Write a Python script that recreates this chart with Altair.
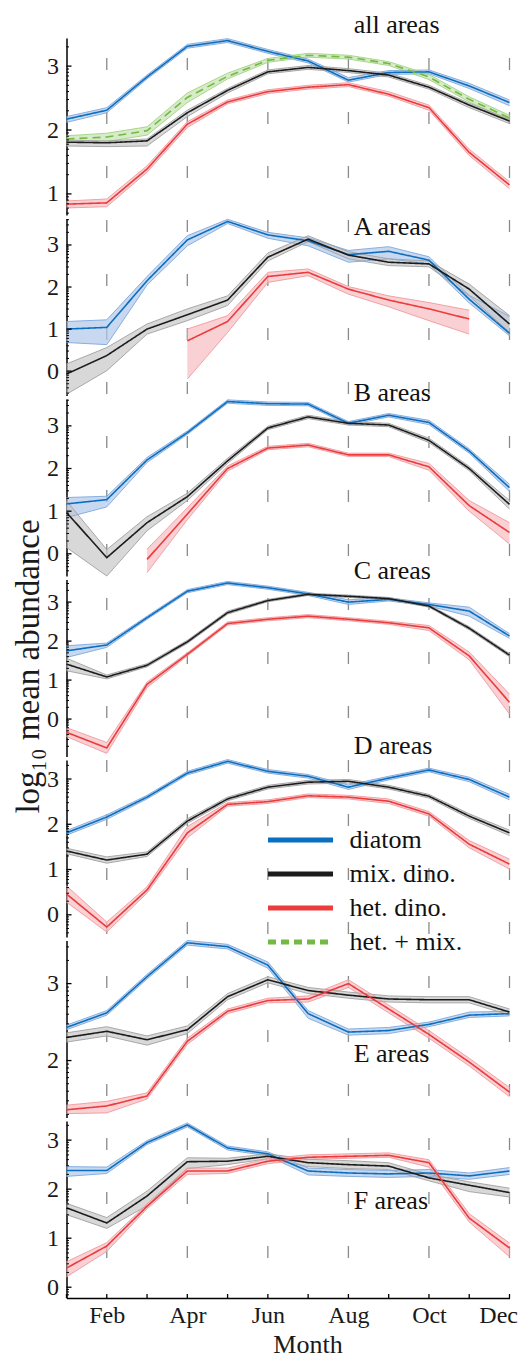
import math
import altair as alt
import pandas as pd

# ---------------- data ----------------
month_names = ["Jan", "Feb", "Mar", "Apr", "May", "Jun", "Jul", "Aug", "Sep", "Oct", "Nov", "Dec"]
months = list(range(1, 13))
label_months = [2, 4, 6, 8, 10, 12]
grid_months = [2, 4, 6, 8, 10, 12]

series_names = ["diatom", "mix. dino.", "het. dino.", "het. + mix."]
line_colors = ["#0b6fbf", "#1c1c1c", "#ec3b3b", "#74b943"]
band_fills = ["#b0c7ea", "#c7c7c7", "#f6bcc2", "#c4e2b0"]
band_edges = ["#7ea8dc", "#a0a0a0", "#f29a9e", "#a3d283"]
series_dash = [[1, 0], [1, 0], [1, 0], [8, 5]]

panel_titles = ["all areas", "A areas", "B areas", "C areas", "D areas", "E areas", "F areas"]
title_month = [8.13, 8.13, 8.13, 8.13, 8.13, 8.13, 8.13]
title_value = [3.65, 3.43, 3.77, 3.79, 3.73, 2.09, 1.76]
y_domains = [[0.67, 3.44], [-0.58, 3.63], [-0.52, 3.63], [-0.96, 3.58],
             [-0.49, 3.42], [1.26, 3.56], [-0.22, 3.39]]

N = None

# all areas
ALL_dia = [2.17, 2.31, 2.83, 3.31, 3.40, 3.23, 3.08, 2.78, 2.90, 2.91, 2.69, 2.43]
ALL_dia_lo = [2.12, 2.27, 2.80, 3.28, 3.37, 3.20, 3.05, 2.75, 2.87, 2.88, 2.65, 2.38]
ALL_dia_hi = [2.21, 2.35, 2.86, 3.34, 3.43, 3.26, 3.11, 2.82, 2.93, 2.94, 2.73, 2.47]
ALL_mix = [1.81, 1.80, 1.83, 2.27, 2.62, 2.91, 2.98, 2.93, 2.86, 2.67, 2.39, 2.14]
ALL_mix_lo = [1.75, 1.74, 1.75, 2.21, 2.58, 2.88, 2.95, 2.90, 2.83, 2.64, 2.35, 2.10]
ALL_mix_hi = [1.84, 1.83, 1.86, 2.31, 2.65, 2.94, 3.01, 2.96, 2.89, 2.70, 2.42, 2.17]
ALL_het = [0.84, 0.86, 1.39, 2.09, 2.44, 2.60, 2.67, 2.71, 2.56, 2.35, 1.65, 1.14]
ALL_het_lo = [0.78, 0.80, 1.34, 2.04, 2.41, 2.57, 2.64, 2.68, 2.53, 2.31, 1.60, 1.08]
ALL_het_hi = [0.89, 0.92, 1.44, 2.13, 2.47, 2.63, 2.70, 2.74, 2.60, 2.39, 1.70, 1.19]
ALL_hm = [1.86, 1.89, 1.99, 2.51, 2.84, 3.09, 3.17, 3.14, 3.04, 2.83, 2.48, 2.19]
ALL_hm_lo = [1.80, 1.82, 1.92, 2.43, 2.80, 3.06, 3.14, 3.11, 3.01, 2.79, 2.44, 2.15]
ALL_hm_hi = [1.91, 1.95, 2.05, 2.58, 2.89, 3.12, 3.20, 3.17, 3.07, 2.87, 2.52, 2.23]

# A areas
A_dia = [1.00, 1.04, 2.15, 3.12, 3.56, 3.24, 3.10, 2.77, 2.85, 2.64, 1.71, 0.90]
A_dia_lo = [0.68, 0.63, 2.05, 2.98, 3.51, 3.16, 2.98, 2.59, 2.67, 2.55, 1.62, 0.84]
A_dia_hi = [1.18, 1.22, 2.25, 3.22, 3.61, 3.30, 3.17, 2.87, 2.96, 2.72, 1.80, 1.30]
A_mix = [-0.07, 0.37, 1.00, 1.34, 1.69, 2.71, 3.14, 2.76, 2.59, 2.55, 1.95, 1.12]
A_mix_lo = [-0.55, 0.01, 0.88, 1.20, 1.56, 2.62, 3.08, 2.67, 2.51, 2.48, 1.79, 0.92]
A_mix_hi = [0.17, 0.56, 1.12, 1.48, 1.79, 2.81, 3.22, 2.84, 2.67, 2.62, 2.07, 1.32]
A_het = [N, N, N, 0.72, 1.18, 2.25, 2.35, 1.95, 1.69, 1.48, 1.24, N]
A_het_lo = [N, N, N, -0.19, 0.92, 2.11, 2.27, 1.83, 1.53, 1.20, 0.88, N]
A_het_hi = [N, N, N, 1.00, 1.32, 2.35, 2.43, 2.01, 1.79, 1.63, 1.45, N]

# B areas
B_dia = [1.17, 1.27, 2.20, 2.84, 3.57, 3.52, 3.51, 3.06, 3.25, 3.08, 2.41, 1.55]
B_dia_lo = [0.85, 1.10, 2.14, 2.80, 3.53, 3.48, 3.47, 3.02, 3.21, 3.03, 2.36, 1.46]
B_dia_hi = [1.32, 1.35, 2.26, 2.88, 3.61, 3.56, 3.55, 3.10, 3.29, 3.13, 2.46, 1.63]
B_mix = [0.97, -0.09, 0.73, 1.34, 2.18, 2.95, 3.21, 3.06, 3.02, 2.66, 2.00, 1.16]
B_mix_lo = [0.15, -0.52, 0.54, 1.25, 2.12, 2.91, 3.17, 3.02, 2.98, 2.61, 1.95, 1.05]
B_mix_hi = [1.24, 0.10, 0.87, 1.42, 2.24, 2.99, 3.25, 3.10, 3.06, 2.71, 2.05, 1.25]
B_het = [N, N, -0.13, 0.93, 2.00, 2.48, 2.55, 2.32, 2.32, 2.04, 1.13, 0.50]
B_het_lo = [N, N, -0.44, 0.80, 1.94, 2.44, 2.51, 2.28, 2.28, 1.96, 1.00, 0.23]
B_het_hi = [N, N, 0.11, 1.08, 2.06, 2.52, 2.59, 2.36, 2.36, 2.12, 1.25, 0.73]

# C areas
C_dia = [1.75, 1.90, 2.60, 3.28, 3.49, 3.37, 3.21, 3.00, 3.07, 2.94, 2.77, 2.13]
C_dia_lo = [1.58, 1.84, 2.56, 3.24, 3.45, 3.33, 3.17, 2.94, 3.03, 2.90, 2.64, 2.07]
C_dia_hi = [1.88, 1.95, 2.64, 3.32, 3.53, 3.41, 3.25, 3.06, 3.11, 2.98, 2.87, 2.19]
C_mix = [1.41, 1.08, 1.38, 1.98, 2.73, 3.04, 3.20, 3.15, 3.09, 2.90, 2.33, 1.64]
C_mix_lo = [1.24, 1.03, 1.34, 1.94, 2.69, 3.01, 3.17, 3.12, 3.06, 2.87, 2.29, 1.60]
C_mix_hi = [1.56, 1.13, 1.42, 2.02, 2.77, 3.07, 3.23, 3.18, 3.12, 2.93, 2.37, 1.68]
C_het = [-0.34, -0.74, 0.89, 1.66, 2.45, 2.56, 2.64, 2.56, 2.47, 2.34, 1.62, 0.43]
C_het_lo = [-0.45, -0.88, 0.81, 1.62, 2.41, 2.52, 2.60, 2.52, 2.43, 2.27, 1.52, 0.13]
C_het_hi = [-0.22, -0.60, 0.95, 1.70, 2.49, 2.60, 2.68, 2.60, 2.51, 2.40, 1.72, 0.64]

# D areas
D_dia = [1.81, 2.16, 2.60, 3.13, 3.39, 3.17, 3.06, 2.82, 3.02, 3.20, 2.99, 2.60]
D_dia_lo = [1.76, 2.11, 2.56, 3.09, 3.35, 3.13, 3.02, 2.77, 2.98, 3.16, 2.94, 2.54]
D_dia_hi = [1.86, 2.21, 2.64, 3.17, 3.43, 3.21, 3.10, 2.87, 3.06, 3.24, 3.04, 2.66]
D_mix = [1.41, 1.21, 1.34, 2.07, 2.56, 2.82, 2.93, 2.95, 2.82, 2.62, 2.18, 1.81]
D_mix_lo = [1.35, 1.14, 1.29, 2.02, 2.52, 2.78, 2.89, 2.91, 2.78, 2.58, 2.13, 1.75]
D_mix_hi = [1.47, 1.28, 1.39, 2.12, 2.60, 2.86, 2.97, 2.99, 2.86, 2.66, 2.23, 1.87]
D_het = [0.46, -0.27, 0.55, 1.81, 2.44, 2.50, 2.63, 2.60, 2.51, 2.23, 1.56, 1.12]
D_het_lo = [0.28, -0.38, 0.48, 1.70, 2.40, 2.46, 2.59, 2.56, 2.46, 2.18, 1.48, 1.01]
D_het_hi = [0.64, -0.16, 0.62, 1.95, 2.48, 2.54, 2.67, 2.64, 2.56, 2.28, 1.64, 1.23]

# E areas
E_dia = [2.43, 2.62, 3.09, 3.53, 3.48, 3.24, 2.61, 2.37, 2.39, 2.47, 2.59, 2.61]
E_dia_lo = [2.40, 2.59, 3.06, 3.50, 3.45, 3.20, 2.55, 2.33, 2.35, 2.44, 2.56, 2.58]
E_dia_hi = [2.46, 2.65, 3.12, 3.56, 3.51, 3.28, 2.65, 2.41, 2.43, 2.50, 2.63, 2.64]
E_mix = [2.30, 2.38, 2.27, 2.40, 2.83, 3.05, 2.91, 2.85, 2.80, 2.79, 2.79, 2.63]
E_mix_lo = [2.24, 2.32, 2.20, 2.35, 2.79, 3.01, 2.87, 2.81, 2.76, 2.75, 2.75, 2.59]
E_mix_hi = [2.36, 2.44, 2.32, 2.45, 2.87, 3.09, 2.95, 2.89, 2.84, 2.83, 2.83, 2.67]
E_het = [1.36, 1.41, 1.54, 2.25, 2.64, 2.78, 2.80, 3.00, 2.67, 2.34, 1.98, 1.59]
E_het_lo = [1.31, 1.32, 1.50, 2.21, 2.61, 2.75, 2.76, 2.95, 2.62, 2.29, 1.93, 1.53]
E_het_hi = [1.42, 1.47, 1.58, 2.29, 2.67, 2.81, 2.84, 3.05, 2.72, 2.39, 2.03, 1.65]

# F areas
F_dia = [2.38, 2.38, 2.95, 3.31, 2.84, 2.72, 2.37, 2.33, 2.31, 2.33, 2.27, 2.37]
F_dia_lo = [2.26, 2.32, 2.91, 3.27, 2.80, 2.68, 2.29, 2.26, 2.24, 2.26, 2.20, 2.30]
F_dia_hi = [2.46, 2.45, 2.99, 3.35, 2.88, 2.76, 2.43, 2.40, 2.38, 2.40, 2.33, 2.44]
F_mix = [1.62, 1.31, 1.86, 2.56, 2.57, 2.67, 2.54, 2.50, 2.47, 2.23, 2.08, 1.93]
F_mix_lo = [1.48, 1.20, 1.66, 2.42, 2.50, 2.62, 2.46, 2.42, 2.40, 2.17, 1.95, 1.84]
F_mix_hi = [1.71, 1.42, 1.96, 2.64, 2.63, 2.72, 2.61, 2.58, 2.54, 2.30, 2.15, 2.02]
F_het = [0.39, 0.84, 1.65, 2.37, 2.37, 2.57, 2.65, 2.67, 2.69, 2.54, 1.41, 0.80]
F_het_lo = [0.21, 0.73, 1.60, 2.30, 2.32, 2.52, 2.61, 2.63, 2.65, 2.45, 1.33, 0.62]
F_het_hi = [0.52, 0.91, 1.70, 2.43, 2.43, 2.62, 2.70, 2.72, 2.74, 2.60, 1.50, 0.90]

panel_series = [
    {"diatom": (ALL_dia, ALL_dia_lo, ALL_dia_hi), "mix. dino.": (ALL_mix, ALL_mix_lo, ALL_mix_hi),
     "het. dino.": (ALL_het, ALL_het_lo, ALL_het_hi), "het. + mix.": (ALL_hm, ALL_hm_lo, ALL_hm_hi)},
    {"diatom": (A_dia, A_dia_lo, A_dia_hi), "mix. dino.": (A_mix, A_mix_lo, A_mix_hi),
     "het. dino.": (A_het, A_het_lo, A_het_hi)},
    {"diatom": (B_dia, B_dia_lo, B_dia_hi), "mix. dino.": (B_mix, B_mix_lo, B_mix_hi),
     "het. dino.": (B_het, B_het_lo, B_het_hi)},
    {"diatom": (C_dia, C_dia_lo, C_dia_hi), "mix. dino.": (C_mix, C_mix_lo, C_mix_hi),
     "het. dino.": (C_het, C_het_lo, C_het_hi)},
    {"diatom": (D_dia, D_dia_lo, D_dia_hi), "mix. dino.": (D_mix, D_mix_lo, D_mix_hi),
     "het. dino.": (D_het, D_het_lo, D_het_hi)},
    {"diatom": (E_dia, E_dia_lo, E_dia_hi), "mix. dino.": (E_mix, E_mix_lo, E_mix_hi),
     "het. dino.": (E_het, E_het_lo, E_het_hi)},
    {"diatom": (F_dia, F_dia_lo, F_dia_hi), "mix. dino.": (F_mix, F_mix_lo, F_mix_hi),
     "het. dino.": (F_het, F_het_lo, F_het_hi)},
]

# ---------------- layout / style ----------------
FONT = "Liberation Serif"
W, H = 443, 177
SPACING = 3.5
LEGEND_PANEL = 4
LEGEND_X, LEGEND_Y = 221, 67

color_scale = alt.Scale(domain=series_names, range=line_colors)
dash_scale = alt.Scale(domain=series_names, range=series_dash)
fill_scale = alt.Scale(domain=series_names, range=band_fills)
edge_scale = alt.Scale(domain=series_names, range=band_edges)
x_scale = alt.Scale(domain=[1, 12], nice=False, zero=False)

legend = alt.Legend(orient="none", legendX=LEGEND_X, legendY=LEGEND_Y, title=None,
                    labelFont=FONT, labelFontSize=26, labelColor="#111111",
                    symbolType="M-5,0H5", symbolSize=169, symbolStrokeWidth=5,
                    symbolFillColor="transparent",
                    labelOffset=36, rowPadding=8, labelLimit=400, direction="vertical",
                    values=series_names)

month_expr = "[" + ",".join("'" + m + "'" for m in [""] + month_names) + "][datum.value]"


def make_panel(i):
    rows = []
    for s, (m, lo, hi) in panel_series[i].items():
        for k in range(12):
            if m[k] is not None:
                rows.append({"series": s, "month": months[k], "mean": m[k], "lo": lo[k], "hi": hi[k]})
    df = pd.DataFrame(rows)
    dom = y_domains[i]
    ys = alt.Scale(domain=dom, nice=False, zero=False)
    last = i == len(panel_titles) - 1

    if last:
        xaxis = alt.Axis(values=label_months, labelExpr=month_expr, ticks=False, grid=False,
                         domainColor="black", domainWidth=1.5, labelFont=FONT, labelFontSize=24,
                         labelColor="#1a1a1a", labelPadding=5, labelFlush=True, labelFlushOffset=8,
                         title="Month", titleFont=FONT, titleFontSize=26, titleFontWeight="normal",
                         titleColor="#1a1a1a", titlePadding=4, titleX=241, titleAlign="center")
    else:
        xaxis = None

    major = [v for v in range(-1, 5) if dom[0] <= v <= dom[1]]
    minor = []
    for n in range(math.floor(dom[0]), math.ceil(dom[1]) + 1):
        for k in range(2, 10):
            v = n + math.log10(k)
            if dom[0] <= v <= dom[1]:
                minor.append(v)

    yaxis_kw = dict(values=major, ticks=False, grid=False, domainColor="black", domainWidth=1.5,
                    labelFont=FONT, labelFontSize=24, labelColor="#1a1a1a", labelPadding=8)
    if i == 3:
        yaxis = alt.Axis(title="log\u2081\u2080 mean abundance", titleFont=FONT, titleFontSize=33,
                         titleFontWeight="normal", titleColor="#1a1a1a", titleAngle=270,
                         titleBaseline="alphabetic", titleAlign="center", titleX=-28.5, titleY=86.5,
                         **yaxis_kw)
    else:
        yaxis = alt.Axis(title=None, **yaxis_kw)

    base = alt.Chart(df)
    x = alt.X("month:Q", scale=x_scale, axis=xaxis)

    top = 37 + i * (H + SPACING)
    d = (3 - top) % 54
    dash_off = (54 - d) % 54

    grid = alt.Chart(pd.DataFrame({"m": grid_months})).mark_rule(
        color="#8a8a8a", strokeWidth=1.3, strokeDash=[12, 42], strokeDashOffset=dash_off
    ).encode(x=alt.X("m:Q", scale=x_scale, axis=xaxis), y=alt.value(0), y2=alt.value(H))

    band = base.mark_area(fillOpacity=0.7).encode(
        x=x, y=alt.Y("lo:Q", scale=ys, axis=yaxis), y2="hi:Q",
        fill=alt.Fill("series:N", scale=fill_scale, legend=None))
    edge_lo = base.mark_line(strokeWidth=0.9).encode(
        x=x, y=alt.Y("lo:Q", scale=ys, axis=yaxis),
        stroke=alt.Stroke("series:N", scale=edge_scale, legend=None))
    edge_hi = base.mark_line(strokeWidth=0.9).encode(
        x=x, y=alt.Y("hi:Q", scale=ys, axis=yaxis),
        stroke=alt.Stroke("series:N", scale=edge_scale, legend=None))
    leg = legend if i == LEGEND_PANEL else None
    line = base.mark_line(strokeWidth=1.6).encode(
        x=x, y=alt.Y("mean:Q", scale=ys, axis=yaxis),
        color=alt.Color("series:N", scale=color_scale, legend=leg),
        strokeDash=alt.StrokeDash("series:N", scale=dash_scale, legend=leg))

    tick_major = alt.Chart(pd.DataFrame({"v": major})).mark_rule(color="black", strokeWidth=1.3).encode(
        y=alt.Y("v:Q", scale=ys, axis=yaxis), x=alt.value(0), x2=alt.value(5))
    tick_minor = alt.Chart(pd.DataFrame({"v": minor})).mark_rule(color="black", strokeWidth=1).encode(
        y=alt.Y("v:Q", scale=ys, axis=yaxis), x=alt.value(0), x2=alt.value(2.5))

    title = alt.Chart(pd.DataFrame({"label": [panel_titles[i]], "tx": [title_month[i]],
                                    "ty": [title_value[i]]})).mark_text(
        align="left", baseline="middle", font=FONT, fontSize=26, color="#111111"
    ).encode(x=alt.X("tx:Q", scale=x_scale, axis=xaxis), y=alt.Y("ty:Q", scale=ys, axis=yaxis),
             text="label:N")

    layers = [grid, band, edge_lo, edge_hi, line, tick_major, tick_minor, title]
    if last:
        mticks = alt.Chart(pd.DataFrame({"m": months})).mark_rule(color="black", strokeWidth=1.3).encode(
            x=alt.X("m:Q", scale=x_scale, axis=xaxis), y=alt.value(H), y2=alt.value(H - 4))
        layers.append(mticks)
    return alt.layer(*layers).properties(width=W, height=H)


chart = alt.vconcat(*[make_panel(i) for i in range(len(panel_titles))], spacing=SPACING).resolve_scale(
    x="independent", y="independent", color="shared", strokeDash="shared", fill="shared", stroke="shared"
).resolve_legend(
    color="independent", strokeDash="independent"
).properties(
    bounds="flush", padding={"left": 3.5, "top": 3, "right": 0, "bottom": 0}
).configure(font=FONT).configure_view(stroke=None)

chart.save("out.html", embed_options={"renderer": "svg", "actions": False})
